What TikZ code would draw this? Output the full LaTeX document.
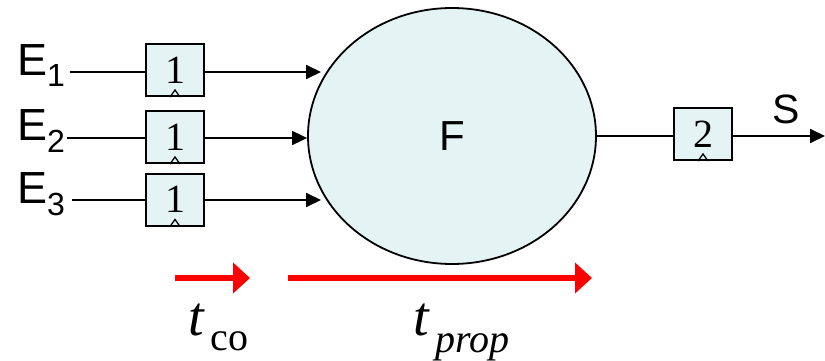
\documentclass[tikz,border=0pt]{standalone}
\usepackage{fontspec}
\setmainfont{Liberation Serif}
\newfontfamily\arialf{Liberation Sans}
\newfontfamily\tmsf{Liberation Serif}
\usetikzlibrary{shapes.geometric,arrows.meta}
\definecolor{cellfill}{HTML}{E4F4F4}
\tikzset{
  reg/.style={draw, line width=2pt, fill=cellfill, minimum width=58pt, minimum height=52pt, inner sep=0pt,
    font=\tmsf\fontsize{40}{40}\selectfont},
  wire/.style={line width=1.8pt},
  arr/.style={line width=1.8pt, -{Triangle[length=15pt,width=14pt]}},
  redarr/.style={line width=6.5pt, red, -{Triangle[length=17pt,width=30pt]}},
  lbl/.style={font=\arialf\fontsize{45}{45}\selectfont, inner sep=0pt, anchor=base west},
}
\newcommand{\clk}[1]{\draw[line width=1.3pt] ([xshift=-5pt]#1.south) -- ++(5,-7) -- ++(5,7);}
\newcommand{\subsc}[1]{\raisebox{-12pt}{\fontsize{32}{32}\selectfont #1}}
\begin{document}
\begin{tikzpicture}[x=1pt,y=-1pt]
\useasboundingbox (0,0) rectangle (825,361);
% ellipse
\node[draw, ellipse, line width=1.8pt, fill=cellfill, minimum width=288pt, minimum height=256pt, inner sep=0pt,
  font=\arialf\fontsize{42}{42}\selectfont] (F) at (452,136) {F};
% labels
\node[lbl] (E1) at (17,75) {E\subsc{1}};
\node[lbl] (E2) at (17,140) {E\subsc{2}};
\node[lbl] (E3) at (17,203) {E\subsc{3}};
% registers
\node[reg] (b1) at (175,70) {1};
\node[reg] (b2) at (175,137) {1};
\node[reg] (b3) at (175,199.5) {1};
\node[reg] (b4) at (703,134) {2};
\clk{b1}\clk{b2}\clk{b3}\clk{b4}
% input wires
\coordinate (s1) at (70,72);
\coordinate (s2) at (67,138);
\coordinate (s3) at (72,200);
\draw[wire] (s1) -- (s1 -| b1.west);
\draw[wire] (s2) -- (s2 -| b2.west);
\draw[wire] (s3) -- (s3 -| b3.west);
\draw[arr] (s1 -| b1.east) -- (321,72);
\draw[arr] (s2 -| b2.east) -- (F.west |- s2);
\draw[arr] (s3 -| b3.east) -- (321,200);
% output
\coordinate (o) at (825,136);
\draw[wire] (F.east |- o) -- (o -| b4.west);
\draw[arr] (o -| b4.east) -- (o);
\node[font=\arialf\fontsize{41}{41}\selectfont, inner sep=0pt, anchor=base] (S) at (786,123) {S};
% timing arrows
\coordinate (a1) at (175,278);
\coordinate (a2) at (250,278);
\coordinate (a3) at (288,278);
\coordinate (a4) at (592,278);
\draw[redarr] (a1) -- (a2);
\draw[redarr] (a3) -- (a4);
\node[inner sep=0pt, anchor=base west] (tco) at (188,335) {\fontsize{56}{56}\selectfont\itshape t\hspace{7pt}\raisebox{-15pt}{\fontsize{40}{40}\selectfont\upshape co}};
\node[inner sep=0pt, anchor=base west] (tprop) at (413,335) {\fontsize{56}{56}\selectfont\itshape t\hspace{7pt}\raisebox{-17pt}{\fontsize{40}{40}\selectfont prop}};
\end{tikzpicture}
\end{document}
